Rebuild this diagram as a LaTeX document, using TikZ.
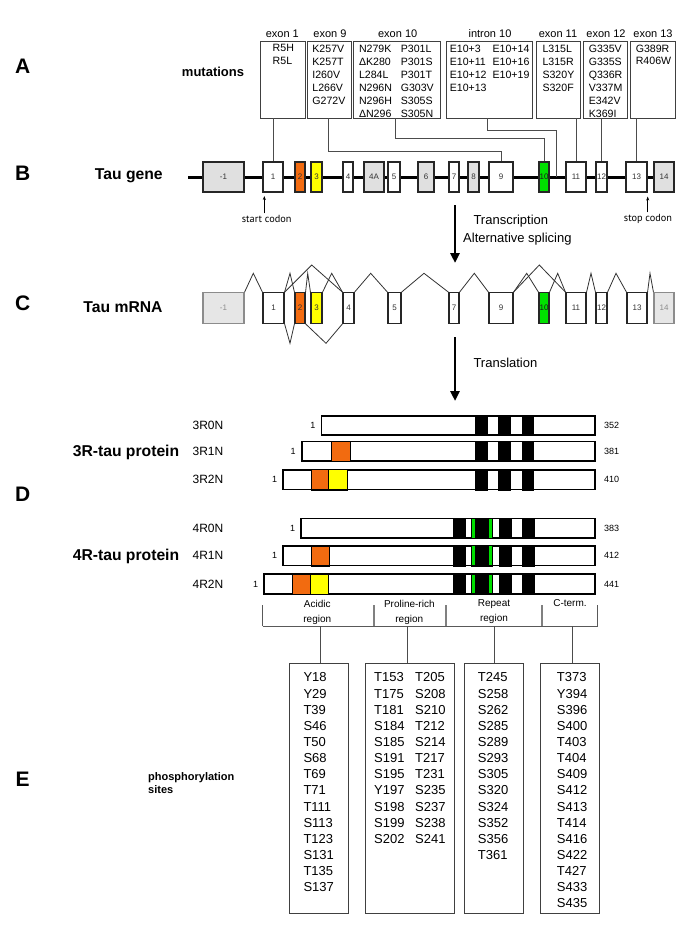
\documentclass[tikz,border=0pt]{standalone}
\usepackage{fontspec}
\setmainfont{Liberation Sans}
\newfontfamily\codonfont{PT Sans}
\usetikzlibrary{arrows.meta}
\definecolor{exorange}{HTML}{F26B10}
\definecolor{exyellow}{HTML}{FFFF00}
\definecolor{exgreen}{HTML}{00E000}
\definecolor{exgray}{HTML}{E0E0E0}
\newcommand\prot[3]{\node[pbox, minimum width={595-#2}] (#1) at ({(#2+595)/2},#3) {};}
\newcommand\seg[4]{\filldraw[segst,fill=#4] (#2,0 |- #1.north) rectangle (#3,0 |- #1.south);}
\newcommand\gseg[3]{\fill[exgreen] ([yshift=-0.6pt]#2,0 |- #1.north) rectangle ([yshift=0.6pt]#3,0 |- #1.south);}
\newcommand\reframe[1]{\draw[line width=1.1pt] (#1.north west) rectangle (#1.south east);}
\begin{document}
\begin{tikzpicture}[x=1pt,y=-1pt,
  conn/.style={draw=black!70, line width=0.8pt},
  splice/.style={draw=black!80, line width=0.8pt},
  gbx/.style={draw=black!85, line width=1.1pt, inner sep=0pt, minimum height=30pt, font=\fontsize{8}{8}\selectfont, text=black!80},
  mbx/.style={gbx, minimum height=30.6pt},
  fadebx/.style={draw=black!45, fill=exgray!80, text=black!45},
  mutbox/.style={draw=black!75, line width=0.8pt, minimum height=77pt, inner sep=0pt},
  mtxt/.style={anchor=north west, inner sep=0pt, align=left, font=\fontsize{10.6}{13}\selectfont},
  exlab/.style={anchor=base, inner sep=0pt, font=\fontsize{11}{11}\selectfont},
  biglet/.style={font=\bfseries\fontsize{21}{21}\selectfont, inner sep=0pt},
  rowtitle/.style={font=\bfseries\fontsize{15.7}{16}\selectfont, inner sep=0pt},
  codon/.style={font=\codonfont\fontsize{10.3}{11}\selectfont, inner sep=0pt},
  steptxt/.style={anchor=base west, inner sep=0pt, font=\fontsize{13}{13}\selectfont},
  bigarrow/.style={line width=2.7pt, -{Triangle[width=9pt,length=10pt]}},
  pbox/.style={draw=black, line width=1.1pt, fill=white, inner sep=0pt, minimum height=19pt},
  segst/.style={draw=black, line width=0.5pt},
  numl/.style={inner sep=0pt, font=\fontsize{9}{9}\selectfont},
  rowl/.style={inner sep=0pt, font=\fontsize{12}{12}\selectfont},
  brk/.style={draw=black!65, line width=0.9pt},
  brkin/.style={draw=black!50, line width=1.8pt},
  reglab/.style={anchor=north, inner sep=0pt, align=center, font=\fontsize{10}{15}\selectfont},
  phbox/.style={draw=black!75, line width=0.9pt, minimum height=250pt, inner sep=0pt},
  phtxt/.style={anchor=north west, inner sep=0pt, align=left, font=\fontsize{13}{16.15}\selectfont}
]
\useasboundingbox[fill=white] (0,0) rectangle (685,939);

% ---------- panel letters and titles
\node[biglet] (LA) at (22.7,66.7) {A};
\node[biglet] (LB) at (22.7,173.3) {B};
\node[biglet] (LC) at (22.7,303.3) {C};
\node[biglet] (LD) at (22.7,494) {D};
\node[biglet] (LE) at (22.7,779) {E};
\node[font=\bfseries\fontsize{13}{13}\selectfont, inner sep=0pt] (mutl) at (213,71.7) {mutations};
\node[rowtitle] (geneT) at (128.8,176) {Tau gene};
\node[rowtitle] (mrnaT) at (123,306.7) {Tau mRNA};
\node[rowtitle] (p3T) at (126,452) {3R-tau protein};
\node[rowtitle] (p4T) at (126,556) {4R-tau protein};
\node[anchor=north west, align=left, inner sep=0pt, font=\bfseries\fontsize{11}{13}\selectfont] (phT) at (148,772) {phosphorylation\\sites};

% ---------- mutation boxes
\node[exlab] (e1l) at (282.3,37.3) {exon 1};
\node[exlab] (e9l) at (330,37.3) {exon 9};
\node[exlab] (e10l) at (397.7,37.3) {exon 10};
\node[exlab] (i10l) at (490,37.3) {intron 10};
\node[exlab] (e11l) at (558,37.3) {exon 11};
\node[exlab] (e12l) at (606,37.3) {exon 12};
\node[exlab] (e13l) at (653,37.3) {exon 13};

\node[mutbox, minimum width=44.3pt] (mb1) at (282.85,79.5) {};
\node[mutbox, minimum width=44pt] (mb9) at (329.7,79.5) {};
\node[mutbox, minimum width=87.7pt] (mb10) at (396.85,79.5) {};
\node[mutbox, minimum width=86pt] (mbi) at (489,79.5) {};
\node[mutbox, minimum width=44pt] (mb11) at (558,79.5) {};
\node[mutbox, minimum width=44.7pt] (mb12) at (605.35,79.5) {};
\node[mutbox, minimum width=44.3pt] (mb13) at (652.85,79.5) {};

\node[mtxt] (t1) at (272.5,44.4) {R5H\\R5L};
\node[mtxt] (t9) at (312.2,44.4) {K257V\\K257T\\I260V\\L266V\\G272V};
\node[mtxt] (t10a) at (358.8,44.4) {N279K\\ΔK280\\L284L\\N296N\\N296H\\ΔN296};
\node[mtxt] (t10b) at (400.6,44.4) {P301L\\P301S\\P301T\\G303V\\S305S\\S305N};
\node[mtxt] (tia) at (449.6,44.4) {E10+3\\E10+11\\E10+12\\E10+13};
\node[mtxt] (tib) at (492.4,44.4) {E10+14\\E10+16\\E10+19};
\node[mtxt] (t11) at (542.3,44.4) {L315L\\L315R\\S320Y\\S320F};
\node[mtxt] (t12) at (588.6,44.4) {G335V\\G335S\\Q336R\\V337M\\E342V\\K369I};
\node[mtxt] (t13) at (635.6,44.4) {G389R\\R406W};

% ---------- gene
\coordinate (gs) at (188,177);
\coordinate (ge) at (674,177);
\coordinate (i10) at (556.7,177);
\draw[line width=3pt] (gs) -- (ge);
\node[gbx, fill=exgray, minimum width=41pt] (gm1) at (223.5,177) {-1};
\node[gbx, fill=white, minimum width=20pt] (g1) at (273,177) {1};
\node[gbx, fill=exorange, minimum width=10pt] (g2) at (300,177) {2};
\node[gbx, fill=exyellow, minimum width=11pt] (g3) at (316.5,177) {3};
\node[gbx, fill=white, minimum width=10pt] (g4) at (348,177) {4};
\node[gbx, fill=exgray, minimum width=20pt] (g4A) at (374,177) {4A};
\node[gbx, fill=white, minimum width=12pt] (g5) at (394,177) {5};
\node[gbx, fill=exgray, minimum width=16pt] (g6) at (426,177) {6};
\node[gbx, fill=white, minimum width=10pt] (g7) at (454,177) {7};
\node[gbx, fill=exgray, minimum width=11pt] (g8) at (473.5,177) {8};
\node[gbx, fill=white, minimum width=24pt] (g9) at (501,177) {9};
\node[gbx, fill=exgreen, minimum width=10pt, text=black!90] (g10) at (544,177) {10};
\node[gbx, fill=white, minimum width=20pt] (g11) at (576,177) {11};
\node[gbx, fill=white, minimum width=11pt] (g12) at (601.5,177) {12};
\node[gbx, fill=white, minimum width=21pt] (g13) at (636.5,177) {13};
\node[gbx, fill=exgray, minimum width=20pt] (g14) at (664,177) {14};

% mutation connectors
\draw[conn] (g1.north |- mb1.south) -- (g1.north);
\draw[conn] ([xshift=-1pt]mb9.south) -- ++(0,32.7) -| (g9.north);
\draw[conn] ([xshift=-1.1pt]mb10.south) -- ++(0,20.3) -| (g10.north);
\draw[conn] ([xshift=-1.7pt]mbi.south) -- ++(0,12) -| (i10);
\draw[conn] (g11.north |- mb11.south) -- (g11.north);
\draw[conn] (g12.north |- mb12.south) -- (g12.north);
\draw[conn] (g13.north |- mb13.south) -- (g13.north);

% start / stop codon
\node[codon] (startc) at (266.7,219.3) {start codon};
\node[codon] (stopc) at (648,219.3) {stop codon};
\draw[line width=0.7pt, -{Stealth[length=4pt,width=3pt]}] (264.3,0 |- startc.north) ++(0,-2) coordinate (sa) -- (264.3,196);
\draw[line width=0.7pt, -{Stealth[length=4pt,width=3pt]}] (647.7,0 |- stopc.north) ++(0,-2) coordinate (sb) -- (647.7,196.5);

% transcription arrow
\coordinate (ta) at (455,205);
\coordinate (tb) at (455,263);
\draw[bigarrow] (ta) -- (tb);
\node[steptxt] (trT) at (473.3,224.3) {Transcription};
\node[steptxt] (trA) at (463,242.5) {Alternative splicing};

% ---------- mRNA
\node[mbx, fadebx, minimum width=41pt] (mm1) at (223.5,308) {-1};
\node[mbx, fill=white, minimum width=21pt] (m1) at (273.5,308) {1};
\node[mbx, fill=exorange, minimum width=10pt] (m2) at (300,308) {2};
\node[mbx, fill=exyellow, minimum width=11pt] (m3) at (316.5,308) {3};
\node[mbx, fill=white, minimum width=11pt] (m4) at (348.5,308) {4};
\node[mbx, fill=white, minimum width=13pt] (m5) at (394.5,308) {5};
\node[mbx, fill=white, minimum width=10pt] (m7) at (454,308) {7};
\node[mbx, fill=white, minimum width=24pt] (m9) at (501,308) {9};
\node[mbx, fill=exgreen, minimum width=10pt, text=black!90] (m10) at (544,308) {10};
\node[mbx, fill=white, minimum width=20pt] (m11) at (576,308) {11};
\node[mbx, fill=white, minimum width=11pt] (m12) at (601.5,308) {12};
\node[mbx, fill=white, minimum width=20pt] (m13) at (637,308) {13};
\node[mbx, fadebx, minimum width=20pt] (m14) at (664,308) {14};

\draw[splice] (mm1.north east) -- (253.3,273.3) -- (m1.north west);
\draw[splice] (m1.north east) -- (290,273.3) -- (m2.north west);
\draw[splice] (m1.north east) -- (311.7,265) -- (m4.north west);
\draw[splice] (m2.north east) -- (307.7,273.3) -- (m3.north west);
\draw[splice] (m3.north east) -- (331.7,273.3) -- (m4.north west);
\draw[splice] (m1.south east) -- (290,343.3) -- (m2.south west);
\draw[splice] (m2.south east) -- (326,343.3) -- (m4.south west);
\draw[splice] (m4.north east) -- (370.7,273.3) -- (m5.north west);
\draw[splice] (m5.north east) -- (424,273.3) -- (m7.north west);
\draw[splice] (m7.north east) -- (474.3,273.3) -- (m9.north west);
\draw[splice] (m9.north east) -- (526.7,273.3) -- (m10.north west);
\draw[splice] (m9.north east) -- (539.3,265) -- (m11.north west);
\draw[splice] (m10.north east) -- (557.7,273.3) -- (m11.north west);
\draw[splice] (m11.north east) -- (591,273.3) -- (m12.north west);
\draw[splice] (m12.north east) -- (616,273.3) -- (m13.north west);
\draw[splice] (m13.north east) -- (650,273.3) -- (m14.north west);

% translation arrow
\coordinate (tla) at (455,337.3);
\coordinate (tlb) at (455,401);
\draw[bigarrow] (tla) -- (tlb);
\node[steptxt] (tlT) at (473.3,367) {Translation};

% ---------- proteins
\prot{p30}{321.7}{425.5}
\prot{p31}{302}{451.3}
\prot{p32}{283.3}{479.7}
\prot{p40}{301.3}{528.3}
\prot{p41}{283.3}{555.8}
\prot{p42}{264.3}{584}

\foreach \p in {p30,p31,p32}{
  \seg{\p}{475.3}{487.3}{black}
  \seg{\p}{498.7}{510.3}{black}
  \seg{\p}{522}{533.7}{black}
}
\foreach \p in {p40,p41,p42}{
  \seg{\p}{453.3}{465.7}{black}
  \seg{\p}{471}{492.3}{black}
  \gseg{\p}{471.9}{475.1}
  \gseg{\p}{488.9}{491.5}
  \seg{\p}{499.7}{511.3}{black}
  \seg{\p}{522.7}{534.7}{black}
}
\seg{p31}{331.7}{350}{exorange}
\seg{p32}{311.3}{328.3}{exorange}
\seg{p32}{328.3}{347}{exyellow}
\seg{p41}{311}{329.3}{exorange}
\seg{p42}{292.3}{310}{exorange}
\seg{p42}{310}{328.3}{exyellow}
\foreach \p in {p30,p31,p32,p40,p41,p42}{\reframe{\p}}

\foreach \p/\n/\r in {p30/3R0N/352,p31/3R1N/381,p32/3R2N/410,p40/4R0N/383,p41/4R1N/412,p42/4R2N/441}{
  \node[numl, anchor=east] (\p s) at ([xshift=-5.5pt]\p.west) {1};
  \node[numl, anchor=west] (\p e) at ([xshift=8.3pt]\p.east) {\r};
  \node[rowl] (\p n) at (208,0 |- \p.center) {\n};
}

% ---------- regions
\coordinate (b0) at (262.7,626);
\coordinate (b1) at (374,626);
\coordinate (b2) at (445.7,626);
\coordinate (b3) at (542.3,626);
\coordinate (b4) at (597.7,626);
\draw[brk] (b0) -- (b4);
\draw[brk] (b0) -- ++(0,-21);
\draw[brk] (b4) -- ++(0,-21);
\draw[brkin] (b1) -- ++(0,-21);
\draw[brkin] (b2) -- ++(0,-21);
\draw[brkin] (b3) -- ++(0,-21);
\node[reglab] (rg1) at (317.3,599.7) {Acidic\\region};
\node[reglab] (rg2) at (409.3,599.7) {Proline-rich\\region};
\node[reglab] (rg3) at (494,599.7) {Repeat\\region};
\node[reglab] (rg4) at (570,599.7) {C-term.};

% ---------- phosphorylation boxes
\node[phbox, minimum width=59.4pt] (ph1) at (319,788.3) {};
\node[phbox, minimum width=89pt] (ph2) at (409.8,788.3) {};
\node[phbox, minimum width=59.3pt] (ph3) at (493.65,788.3) {};
\node[phbox, minimum width=59.3pt] (ph4) at (569.65,788.3) {};
\coordinate (r1) at (320,626);
\coordinate (r2) at (407.3,626);
\coordinate (r3) at (494,626);
\coordinate (r4) at (572.3,626);
\draw[conn] (r1) -- (r1 |- ph1.north);
\draw[conn] (r2) -- (r2 |- ph2.north);
\draw[conn] (r3) -- (r3 |- ph3.north);
\draw[conn] (r4) -- (r4 |- ph4.north);

\node[phtxt] (ph1t) at (303.3,672.6) {Y18\\Y29\\T39\\S46\\T50\\S68\\T69\\T71\\T111\\S113\\T123\\S131\\T135\\S137};
\node[phtxt] (ph2a) at (374,672.6) {T153\\T175\\T181\\S184\\S185\\S191\\S195\\Y197\\S198\\S199\\S202};
\node[phtxt] (ph2b) at (415,672.6) {T205\\S208\\S210\\T212\\S214\\T217\\T231\\S235\\S237\\S238\\S241};
\node[phtxt] (ph3t) at (477.7,672.6) {T245\\S258\\S262\\S285\\S289\\S293\\S305\\S320\\S324\\S352\\S356\\T361};
\node[phtxt] (ph4t) at (556.7,672.6) {T373\\Y394\\S396\\S400\\T403\\T404\\S409\\S412\\S413\\T414\\S416\\S422\\T427\\S433\\S435};
\end{tikzpicture}
\end{document}
